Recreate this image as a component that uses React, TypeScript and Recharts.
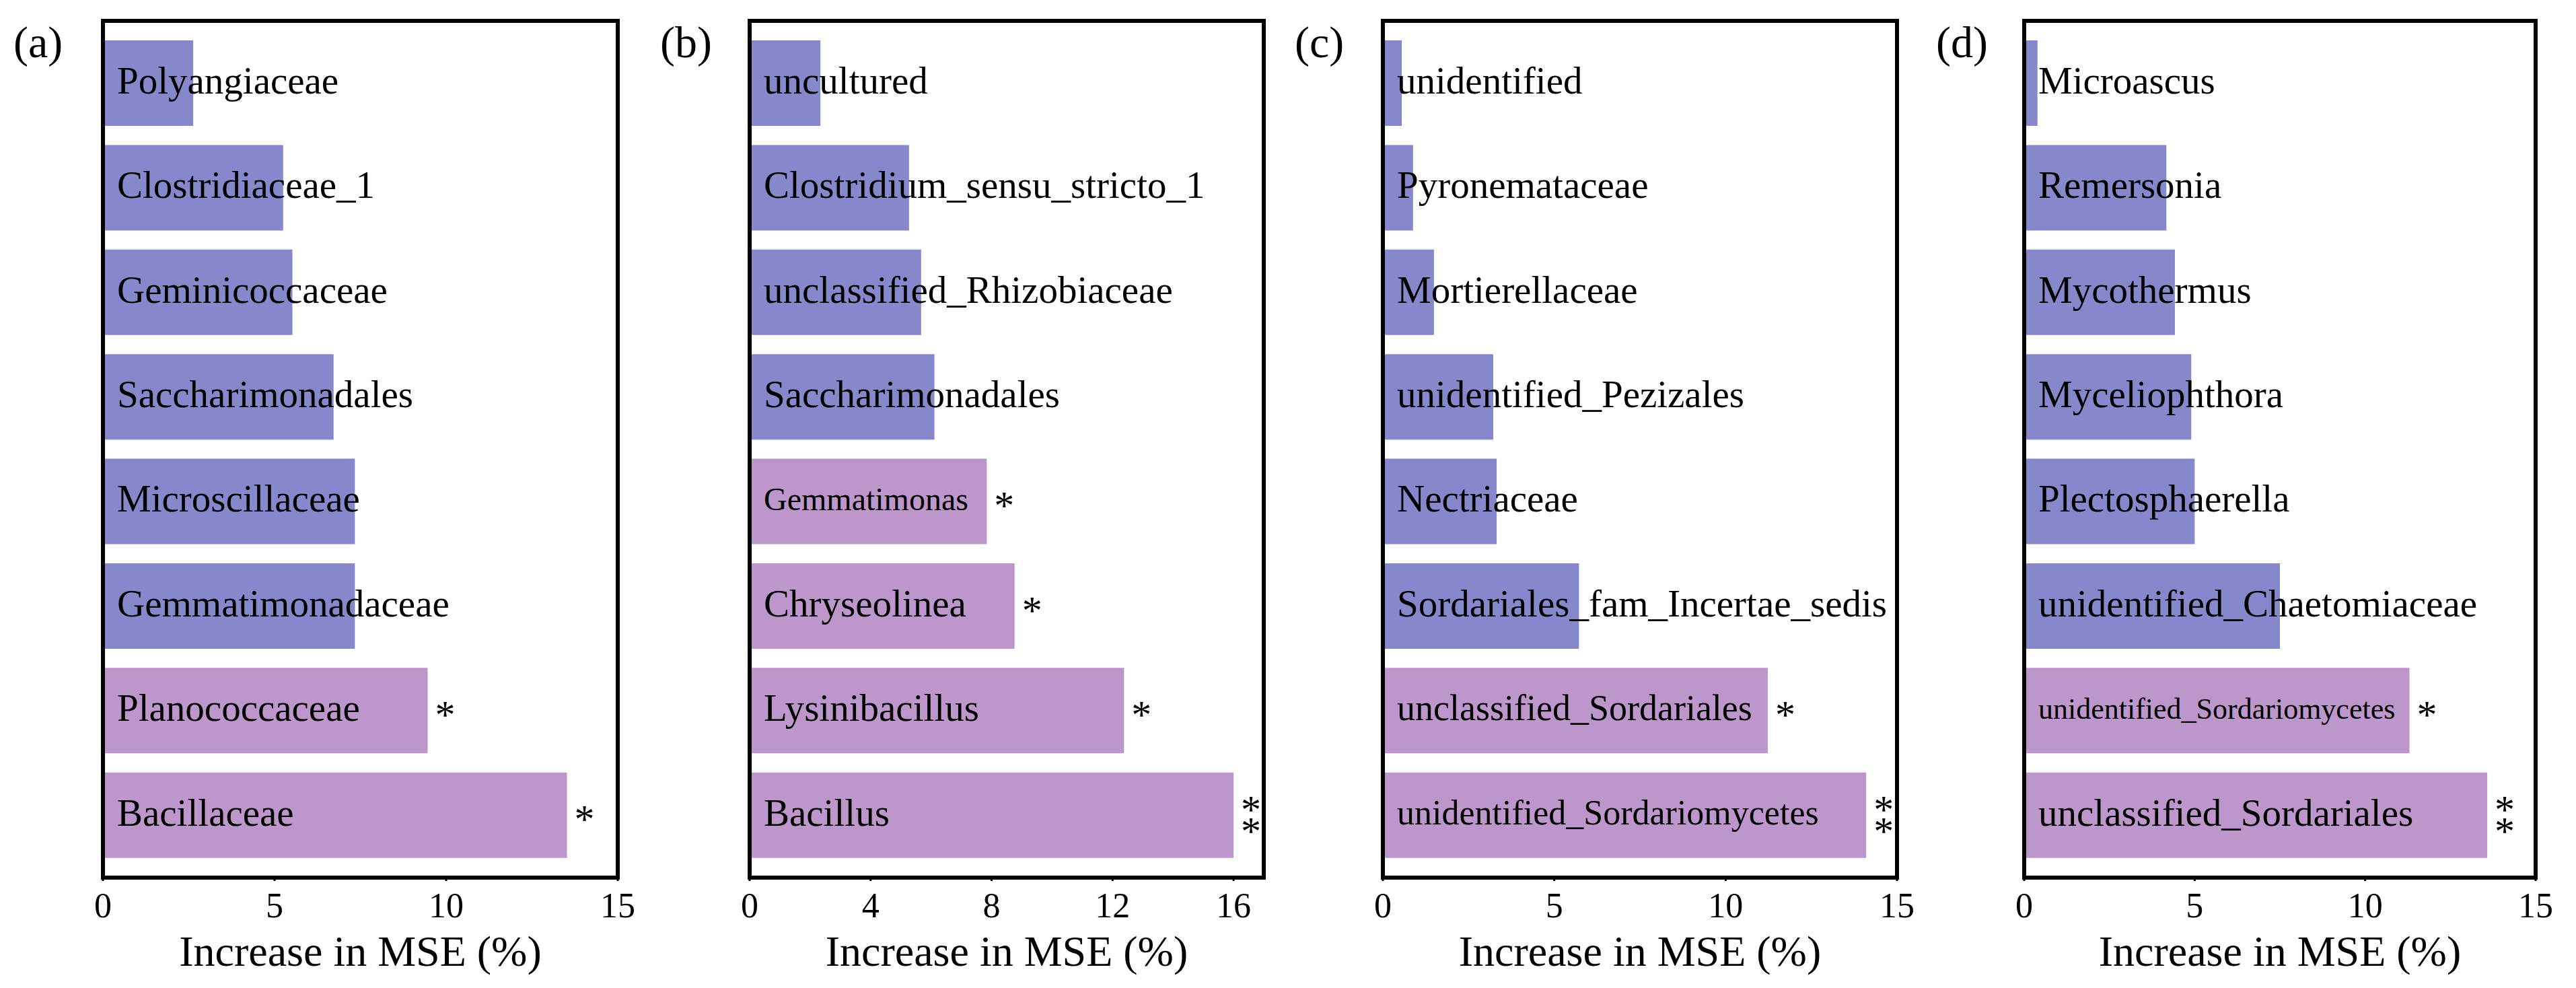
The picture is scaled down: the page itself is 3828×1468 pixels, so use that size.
import React from 'react';
import { BarChart, Bar, XAxis, YAxis, Cell, LabelList } from 'recharts';

// panel (a)
const namesA = ['Polyangiaceae', 'Clostridiaceae_1', 'Geminicoccaceae', 'Saccharimonadales', 'Microscillaceae', 'Gemmatimonadaceae', 'Planococcaceae', 'Bacillaceae'];
const valuesA = [2.63, 5.25, 5.52, 6.72, 7.34, 7.34, 9.46, 13.52];
const sigA = ['', '', '', '', '', '', '*', '*'];

// panel (b)
const namesB = ['uncultured', 'Clostridium_sensu_stricto_1', 'unclassified_Rhizobiaceae', 'Saccharimonadales', 'Gemmatimonas', 'Chryseolinea', 'Lysinibacillus', 'Bacillus'];
const valuesB = [2.34, 5.27, 5.67, 6.11, 7.84, 8.76, 12.38, 16.0];
const sigB = ['', '', '', '', '*', '*', '*', '**'];

// panel (c)
const namesC = ['unidentified', 'Pyronemataceae', 'Mortierellaceae', 'unidentified_Pezizales', 'Nectriaceae', 'Sordariales_fam_Incertae_sedis', 'unclassified_Sordariales', 'unidentified_Sordariomycetes'];
const valuesC = [0.55, 0.88, 1.49, 3.22, 3.32, 5.72, 11.23, 14.1];
const sigC = ['', '', '', '', '', '', '*', '**'];

// panel (d)
const namesD = ['Microascus', 'Remersonia', 'Mycothermus', 'Myceliophthora', 'Plectosphaerella', 'unidentified_Chaetomiaceae', 'unidentified_Sordariomycetes', 'unclassified_Sordariales'];
const valuesD = [0.39, 4.17, 4.42, 4.9, 5.0, 7.5, 11.3, 13.58];
const sigD = ['', '', '', '', '', '', '*', '**'];

const ticks15 = [0, 5, 10, 15];
const ticks17 = [0, 4, 8, 12, 16];

const FONT = '"Liberation Serif", "Times New Roman", Times, serif';
const BLUE = '#8787cb';
const PURPLE = '#bd97cb';
const TOP = 31;
const BOTTOM = 1304;
const H = 1468;

const NameLabel = (fontSize: number) => (props: any) => {
  const { x, y, height, value } = props;
  return (
    <text x={x + 21} y={y + height / 2 + fontSize * 0.27} fontFamily={FONT} fontSize={fontSize} fill="#000">
      {value}
    </text>
  );
};

const StarLabel = (props: any) => {
  const { x, y, width, height, value } = props;
  if (!value) return null;
  const cx = x + width + 26;
  const cy = y + height / 2;
  const fs = 60;
  if (value === '**') {
    return (
      <text x={cx} y={cy - 16 + fs * 0.47} textAnchor="middle" fontFamily={FONT} fontSize={fs} fill="#000">
        <tspan x={cx}>*</tspan>
        <tspan x={cx} dy={32}>*</tspan>
      </text>
    );
  }
  return (
    <text x={cx} y={cy - 2 + fs * 0.47} textAnchor="middle" fontFamily={FONT} fontSize={fs} fill="#000">
      *
    </text>
  );
};

const AxisTitle = (props: any) => {
  const vb = props.viewBox || {};
  return (
    <text x={vb.x + vb.width / 2} y={vb.y + 131} textAnchor="middle" fontFamily={FONT} fontSize={64} fill="#000">
      Increase in MSE (%)
    </text>
  );
};

const smallLabels: Record<string, number> = {
  'b:Gemmatimonas': 48,
  'd:unidentified_Sordariomycetes': 44,
  'c:unidentified_Sordariomycetes': 52,
  'c:unclassified_Sordariales': 54,
};

interface PanelProps {
  id: string;
  names: string[];
  values: number[];
  sig: string[];
  left: number;
  right: number;
  max: number;
  ticks: number[];
  letterX: number;
}

const Panel = ({ id, names, values, sig, left, right, max, ticks, letterX }: PanelProps) => {
  const data = names.map((name, i) => ({ name, value: values[i], sig: sig[i] }));
  const padL = 40;
  const padR = 60;
  const width = right - left + padL + padR;
  const labelFor = (props: any) => {
    const fs = smallLabels[`${id}:${props.value}`] || 57;
    return NameLabel(fs)(props);
  };
  return (
    <>
      <div
        style={{
          position: 'absolute',
          left: letterX,
          top: 30,
          fontFamily: FONT,
          fontSize: 66,
          lineHeight: '66px',
          color: '#000',
          whiteSpace: 'nowrap',
        }}
      >
        ({id})
      </div>
      <div style={{ position: 'absolute', left: left - padL, top: 0 }}>
        <BarChart
          width={width}
          height={H}
          data={data}
          layout="vertical"
          margin={{ top: TOP, right: padR, left: padL, bottom: H - BOTTOM - 150 }}
          barSize={127}
        >
          <XAxis
            type="number"
            domain={[0, max]}
            ticks={ticks}
            interval={0}
            height={150}
            axisLine={false}
            tickLine={{ stroke: '#000', strokeWidth: 3 }}
            tickSize={5}
            tickMargin={17}
            tick={{ fontFamily: FONT, fontSize: 52, fill: '#000' }}
            label={<AxisTitle />}
          />
          <YAxis
            type="category"
            dataKey="name"
            width={0}
            tick={false}
            axisLine={false}
            tickLine={false}
            padding={{ top: 15, bottom: 15 }}
          />
          <Bar dataKey="value" isAnimationActive={false}>
            {data.map((d, i) => (
              <Cell key={`c-${i}`} fill={d.sig ? PURPLE : BLUE} />
            ))}
            <LabelList dataKey="name" content={labelFor} />
            <LabelList dataKey="sig" content={StarLabel} />
          </Bar>
        </BarChart>
        <div
          style={{
            position: 'absolute',
            left: padL - 3,
            top: TOP - 3,
            width: right - left + 6,
            height: BOTTOM - TOP + 6,
            border: '6px solid #000',
            boxSizing: 'border-box',
            pointerEvents: 'none',
          }}
        />
      </div>
    </>
  );
};

export default function App() {
  return (
    <div style={{ position: 'absolute', left: 0, top: 0, width: 3828, height: H, background: '#fff', overflow: 'hidden' }}>
      <Panel id="a" names={namesA} values={valuesA} sig={sigA} left={153} right={918} max={15} ticks={ticks15} letterX={20} />
      <Panel id="b" names={namesB} values={valuesB} sig={sigB} left={1114} right={1878} max={17} ticks={ticks17} letterX={981} />
      <Panel id="c" names={namesC} values={valuesC} sig={sigC} left={2055} right={2819} max={15} ticks={ticks15} letterX={1924} />
      <Panel id="d" names={namesD} values={valuesD} sig={sigD} left={3008} right={3768} max={15} ticks={ticks15} letterX={2877} />
    </div>
  );
}
